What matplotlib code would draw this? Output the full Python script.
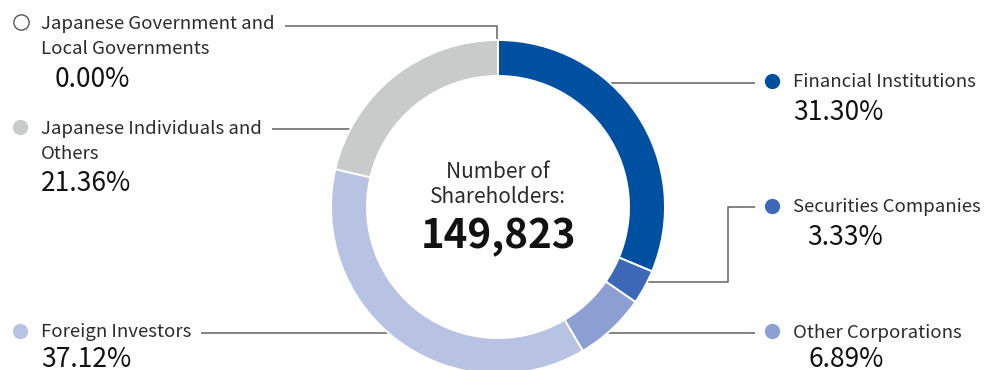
import matplotlib
matplotlib.use("Agg")
import matplotlib.pyplot as plt

plt.rcParams['font.family'] = ['Noto Sans CJK JP', 'DejaVu Sans']

# Shareholder composition, clockwise from 12 o'clock
categories = ["Financial Institutions", "Securities Companies", "Other Corporations",
              "Foreign Investors", "Japanese Individuals and\nOthers",
              "Japanese Government and\nLocal Governments"]
shares = [31.30, 3.33, 6.89, 37.12, 21.36, 0.00]
colors = ["#0050a2", "#3c68b7", "#8c9ed2", "#b8c2e3", "#c9caca", "#ffffff"]
total_label = ["Number of", "Shareholders:"]
total_holders = 149823

W, H = 984, 370
fig = plt.figure(figsize=(W / 100, H / 100), dpi=100)
ax = fig.add_axes([0, 0, 1, 1])

cx, cy, R, ring = 498, 207, 167, 36
ax.pie(shares, colors=colors, startangle=-90, counterclock=True,
       radius=R, center=(cx, cy), frame=True,
       wedgeprops=dict(width=ring, edgecolor='white', linewidth=1.4))
ax.set_xlim(0, W)
ax.set_ylim(H, 0)
ax.set_aspect('equal')
ax.axis('off')

line_kw = dict(color='#6e6e6e', lw=1.2, zorder=0, solid_capstyle='butt')
# leader lines from each label to its ring segment
ax.plot([285, 497, 497], [26, 26, 41], **line_kw)
ax.plot([272, 352], [129, 129], **line_kw)
ax.plot([201, 392], [333, 333], **line_kw)
ax.plot([608, 755], [83, 83], **line_kw)
ax.plot([645, 728, 728, 755], [282, 282, 207, 207], **line_kw)
ax.plot([603, 755], [333, 333], **line_kw)

label_fs = 13.4
pct_fs = 19.0
txt_c = '#2b2b2b'
line_step = 25

# (marker x, marker y, text x, first baseline y, pct x, pct baseline y)
layout = [
    (772, 81, 793, 87, 793, 120),
    (772, 206, 793, 212, 807, 245),
    (772, 331, 793, 338, 808, 367),
    (20, 331, 41, 337, 41, 367),
    (20, 127, 41, 134, 41, 191),
    (21, 22, 41, 29, 55, 87),
]
for name, val, col, (mx, my, tx, ty, px, py) in zip(categories, shares, colors, layout):
    if val == 0:
        ax.plot(mx, my, 'o', ms=11, mfc='white', mec='#555555', mew=1.0)
    else:
        ax.plot(mx, my, 'o', ms=11, mfc=col, mec='none')
    for i, part in enumerate(name.split("\n")):
        ax.text(tx, ty + i * line_step, part, fontsize=label_fs, color=txt_c,
                ha='left', va='baseline')
    ax.text(px, py, f"{val:.2f}%", fontsize=pct_fs, color='#111111', ha='left',
            va='baseline')

ax.text(cx, 178, total_label[0], fontsize=15, color=txt_c, ha='center', va='baseline')
ax.text(cx, 203, total_label[1], fontsize=15, color=txt_c, ha='center', va='baseline')
ax.text(cx, 248, f"{total_holders:,}", fontsize=29, fontweight='bold', color='#111111',
        ha='center', va='baseline')

fig.savefig("out.png", dpi=100)
